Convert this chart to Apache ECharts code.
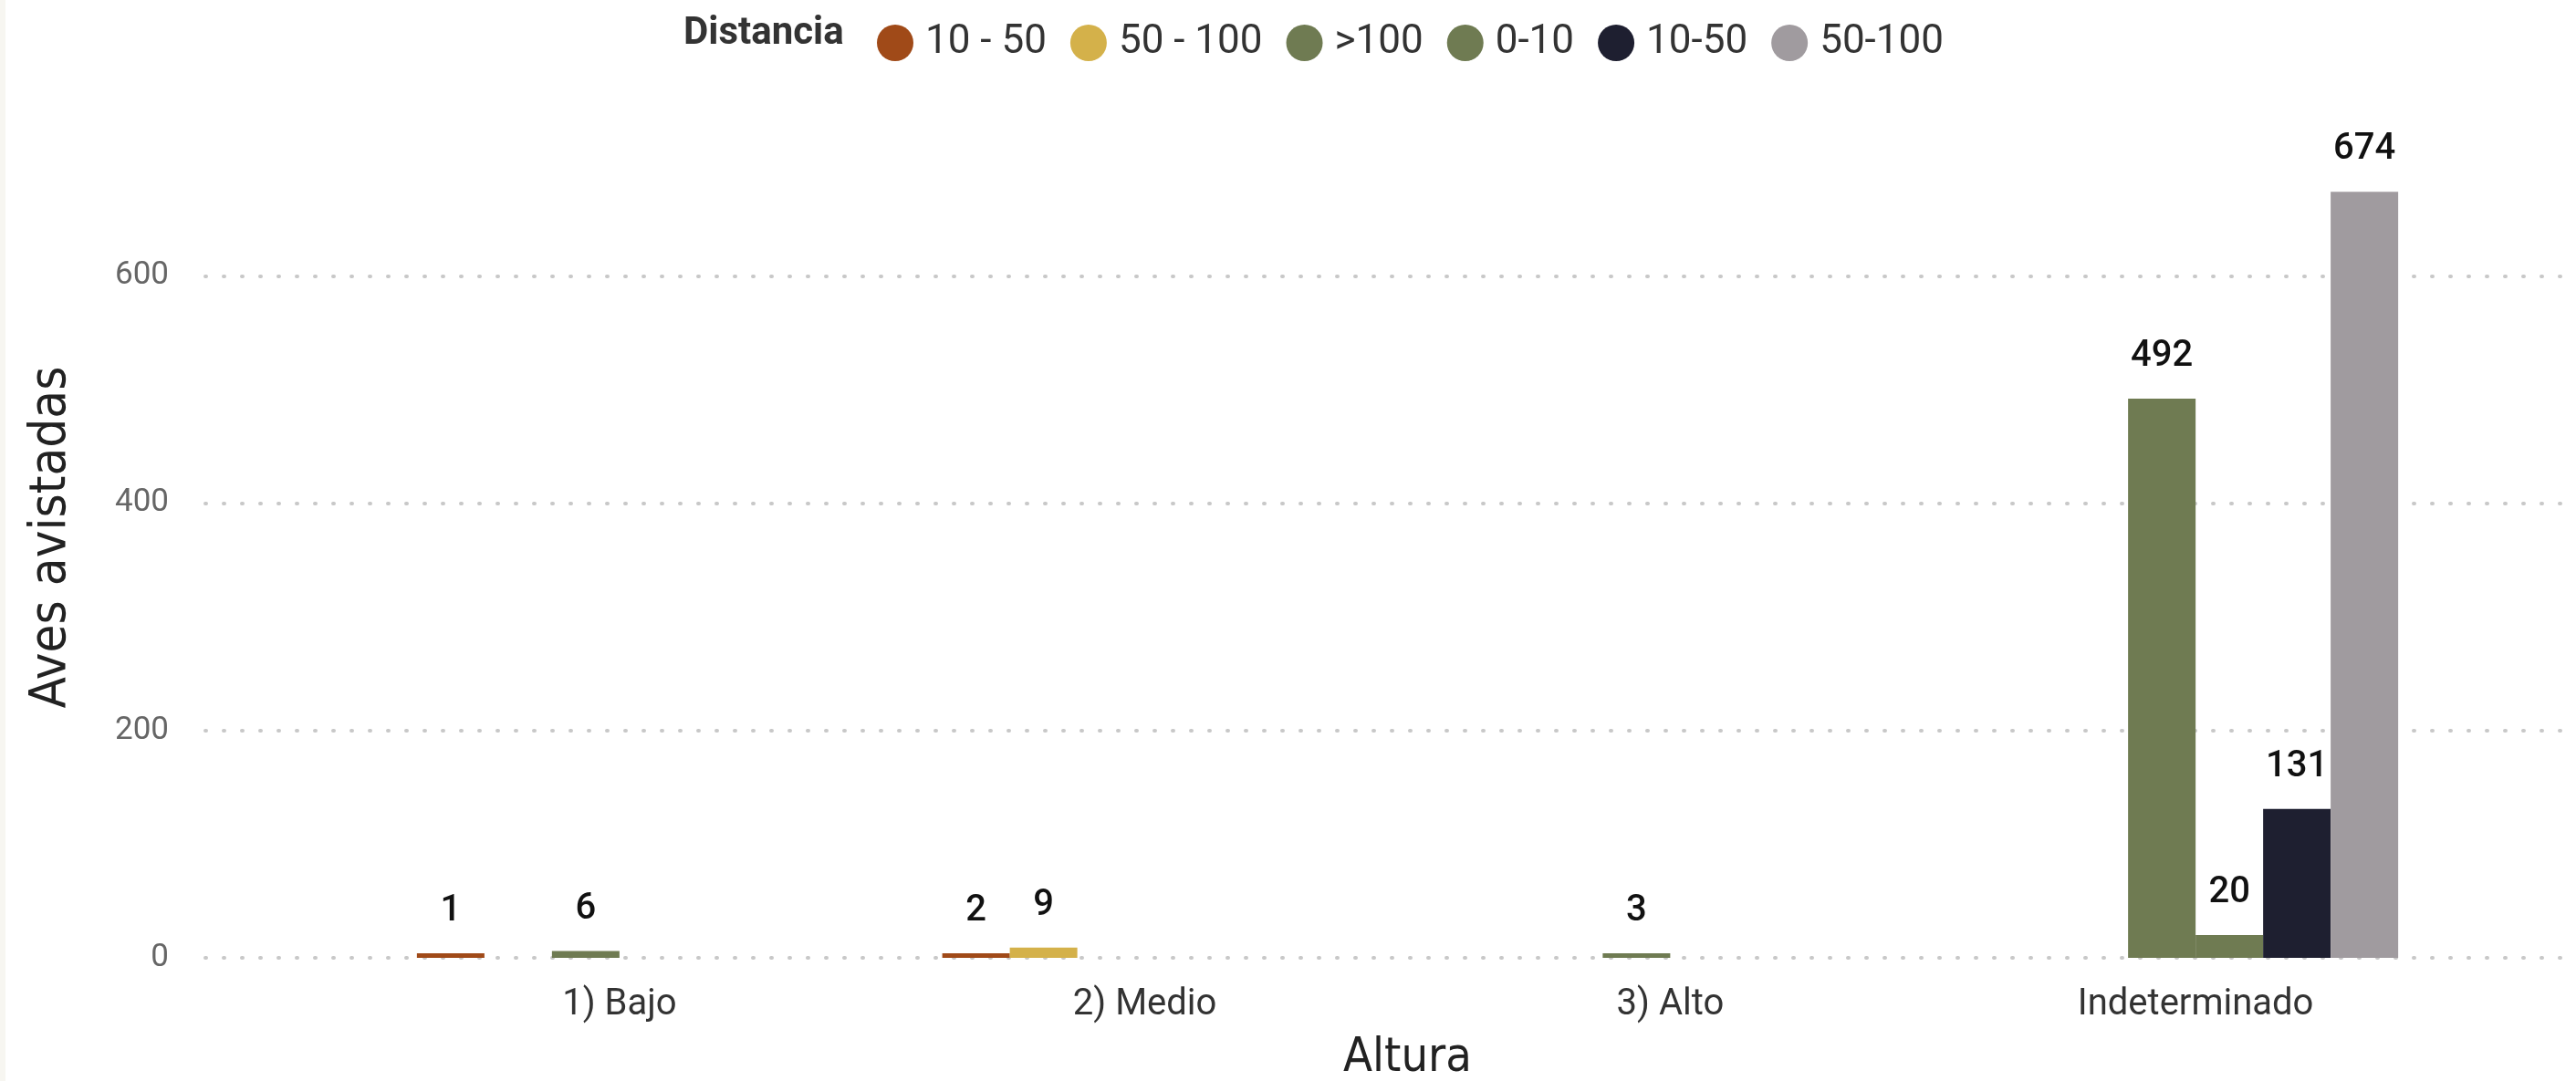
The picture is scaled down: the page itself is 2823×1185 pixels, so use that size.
<!DOCTYPE html>
<html>
<head>
<meta charset="utf-8">
<script src="https://cdn.jsdelivr.net/npm/echarts@6.0.0/dist/echarts.min.js"></script>
<style>
  html, body { margin: 0; padding: 0; background: #f7f6f1; }
  #chart { position: absolute; left: 6px; top: 0; width: 2817px; height: 1185px; background: #fff; }
</style>
</head>
<body>
<div id="chart"></div>
<script>
// categorias (eje x)
var alturas = ['1) Bajo', '2) Medio', '3) Alto', 'Indeterminado'];
// nombres de la leyenda
var distancias = ['10 - 50', '50 - 100', '>100', '0-10', '10-50', '50-100'];
// valores por serie (null = sin registro)
var serie10a50 = [1, 2, null, null];
var serie50a100 = [null, 9, null, null];
var serieMas100 = [6, null, 3, 492];
var serie0a10 = [null, null, null, 20];
var serie10a50b = [null, null, null, 131];
var serie50a100b = [null, null, null, 674];
// ticks del eje y
var yTicks = [0, 200, 400, 600];
var yMax = 740;

var colores = ['#a04a18', '#d4b14a', '#6f7b52', '#6f7b52', '#1e1f30', '#a09b9f'];
var valores = [serie10a50, serie50a100, serieMas100, serie0a10, serie10a50b, serie50a100b];

var numFont = 'Roboto';
var textFont = "'Liberation Sans Narrow', 'DejaVu Sans Condensed', Roboto";

var chart = echarts.init(document.getElementById('chart'));

var series = distancias.map(function (name, i) {
  return {
    name: name,
    type: 'bar',
    xAxisIndex: 1,
    yAxisIndex: 1,
    barWidth: 74,
    barGap: '0%',
    barMinHeight: 5,
    itemStyle: { color: colores[i] },
    label: {
      show: true,
      position: 'top',
      distance: 26,
      color: '#111',
      fontFamily: numFont,
      fontSize: 40,
      fontWeight: 500
    },
    data: valores[i]
  };
});

var option = {
  animation: false,
  backgroundColor: '#fff',
  graphic: [{
    type: 'text',
    left: 743,
    top: 16,
    style: {
      text: 'Distancia',
      font: 'bold 42px Roboto',
      fill: '#333'
    }
  }],
  legend: {
    left: 950,
    top: 20,
    icon: 'circle',
    itemWidth: 40,
    itemHeight: 40,
    itemGap: 26,
    textStyle: { fontFamily: numFont, fontSize: 44, color: '#333', padding: [0, 0, 0, 8] },
    data: distancias
  },
  grid: [
    { left: 219, right: 14, top: 128, bottom: 135, outerBoundsMode: 'none' },
    { left: 385, right: 129, top: 128, bottom: 135, outerBoundsMode: 'none' }
  ],
  xAxis: [
    {
      gridIndex: 0,
      type: 'category',
      data: alturas,
      show: false
    },
    {
      gridIndex: 1,
      type: 'category',
      data: alturas,
      axisLine: { show: false },
      axisTick: { show: false },
      axisLabel: { fontFamily: numFont, fontSize: 40, color: '#333', margin: 32 },
      name: 'Altura',
      nameLocation: 'middle',
      nameGap: 84,
      nameTextStyle: { fontFamily: textFont, fontSize: 52, color: '#222' }
    }
  ],
  yAxis: [
    {
      gridIndex: 0,
      type: 'value',
      min: 0,
      max: yMax,
      interval: yTicks[1] - yTicks[0],
      axisLine: { show: false },
      axisTick: { show: false },
      axisLabel: {
        fontFamily: numFont, fontSize: 35, color: '#666', margin: 40,
        showMaxLabel: false
      },
      splitLine: {
        show: true,
        showMaxLine: false,
        lineStyle: { color: '#c8c8c8', width: 4, type: [1, 19], cap: 'round' }
      },
      name: 'Aves avistadas',
      nameLocation: 'middle',
      nameGap: 141,
      nameTextStyle: { fontFamily: textFont, fontSize: 56, color: '#222' }
    },
    {
      gridIndex: 1,
      type: 'value',
      min: 0,
      max: yMax,
      show: false,
      splitLine: { show: false }
    }
  ],
  series: series
};

chart.setOption(option);
</script>
</body>
</html>
